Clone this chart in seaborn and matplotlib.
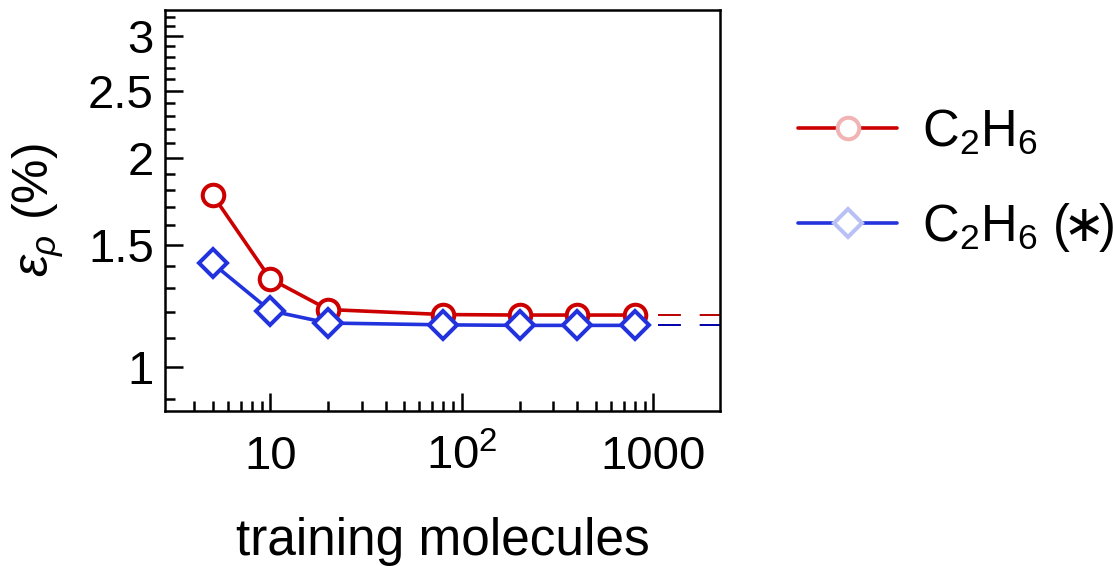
import matplotlib
matplotlib.use("Agg")
import matplotlib.pyplot as plt
from matplotlib.lines import Line2D
from matplotlib.ticker import FixedLocator, NullFormatter
import numpy as np
import pandas as pd
import seaborn as sns

# data
n_train = [5, 10, 20, 80, 200, 400, 800]
err_c2h6 = [1.77, 1.34, 1.21, 1.19, 1.188, 1.188, 1.188]
err_c2h6_star = [1.41, 1.205, 1.157, 1.15, 1.148, 1.148, 1.148]
ref_c2h6 = 1.188
ref_c2h6_star = 1.148
ref_x = [1060, 2500]

ytick_vals = [1, 1.5, 2, 2.5, 3]
ytick_labels = ["1", "1.5", "2", "2.5", "3"]
xtick_vals = [10, 100, 1000]
xtick_labels = ["10", "$10^2$", "1000"]
xminor = [4, 5, 6, 7, 8, 9, 20, 30, 40, 50, 60, 70, 80, 90,
          200, 300, 400, 500, 600, 700, 800, 900]

red = "#cc0000"
blue = "#2233dd"

sns.set_theme(style="ticks")
plt.rcParams["font.family"] = ["Liberation Sans", "DejaVu Sans"]
plt.rcParams["mathtext.fontset"] = "custom"
plt.rcParams["mathtext.rm"] = "Liberation Sans"
plt.rcParams["mathtext.it"] = "Liberation Sans:italic"
plt.rcParams["mathtext.sf"] = "DejaVu Sans"
plt.rcParams["text.color"] = "black"
plt.rcParams["axes.labelcolor"] = "black"
plt.rcParams["xtick.color"] = "black"
plt.rcParams["ytick.color"] = "black"

fs = 34
fig = plt.figure(figsize=(11.13, 5.66), dpi=100)
ax = fig.add_axes([165 / 1113, 1 - 411 / 566, 555 / 1113, 401 / 566])

df = pd.DataFrame({"n": n_train, "a": err_c2h6, "b": err_c2h6_star})

sns.lineplot(data=df, x="n", y="a", ax=ax, color=red, lw=2.6, marker="o",
             ms=15.5, mfc="white", mec=red, mew=2.9, zorder=3)
sns.lineplot(data=df, x="n", y="b", ax=ax, color=blue, lw=2.6, marker="D",
             ms=14, mfc="white", mec=blue, mew=2.9, zorder=4)

dash = (0, (16.5 / 1.4, 13.5 / 1.4))
ax.plot(ref_x, [ref_c2h6] * 2, color="#bb0000", lw=1.4, ls=dash)
ax.plot(ref_x, [ref_c2h6_star] * 2, color="#0000aa", lw=1.4, ls=dash)

ax.set_xscale("log")
ax.set_yscale("log")
ax.set_xlim(2.82, 2225)
ax.set_ylim(0.864, 3.27)

ax.yaxis.set_major_locator(FixedLocator(ytick_vals))
ax.set_yticklabels(ytick_labels)
ax.yaxis.set_minor_locator(FixedLocator(np.round(np.arange(0.9, 3.3, 0.1), 2)))
ax.yaxis.set_minor_formatter(NullFormatter())
ax.xaxis.set_major_locator(FixedLocator(xtick_vals))
ax.set_xticklabels(xtick_labels)
ax.xaxis.set_minor_locator(FixedLocator(xminor))
ax.xaxis.set_minor_formatter(NullFormatter())

ax.tick_params(which="both", direction="in", width=1.8, labelsize=fs, color="black")
ax.tick_params(which="major", length=13)
ax.tick_params(which="minor", length=7)
ax.tick_params(axis="y", pad=8)
ax.tick_params(axis="x", pad=17)
for s in ax.spines.values():
    s.set_linewidth(1.8)
    s.set_color("black")

ax.set_xlabel("training molecules", fontsize=37, labelpad=27)
ax.set_ylabel(r"$\varepsilon_\rho$ (%)", fontsize=36, labelpad=16)

handles = [
    Line2D([], [], color=red, lw=2.6, marker="o", ms=15.5, mfc="white",
           mec="#f0b4b4", mew=2.9),
    Line2D([], [], color=blue, lw=2.6, marker="D", ms=14, mfc="white",
           mec="#b8c0f4", mew=2.9),
]
fig.legend(handles, ["C$_2$H$_6$", r"C$_2$H$_6$ ($\!\mathsf{\ast}\!$)"], loc="upper left",
           bbox_to_anchor=(752 / 1113, 1 - 62 / 566), frameon=False,
           fontsize=36.5, handlelength=1.97, handletextpad=0.49, labelspacing=0.87)

fig.savefig("out.png", dpi=100)
